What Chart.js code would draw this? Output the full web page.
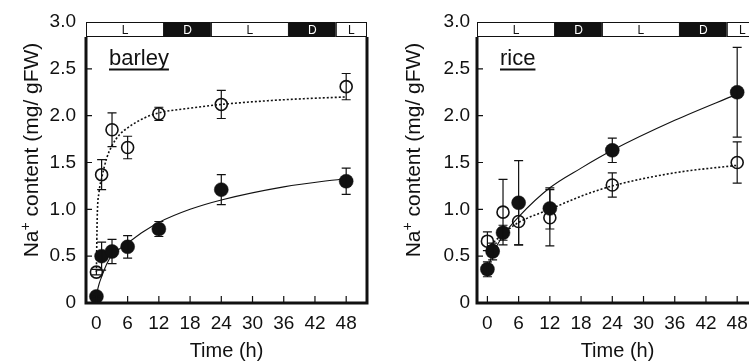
<!DOCTYPE html>
<html>
<head>
<meta charset="utf-8">
<title>Na+ content in barley and rice</title>
<style>
  html, body { margin: 0; padding: 0; background: #fff; overflow: hidden; width: 749px; height: 363px; }
  .panel { position: absolute; top: 0; }
</style>
</head>
<body>
<div class="panel" style="left:0px"><canvas id="barleyChart" width="390" height="363"></canvas></div>
<div class="panel" style="left:391px"><canvas id="riceChart" width="390" height="363"></canvas></div>
<script src="https://cdn.jsdelivr.net/npm/chart.js@4.4.1/dist/chart.umd.min.js"></script>
<script>
// sampling times (h)
const hours = [0, 1, 3, 6, 12, 24, 48];
const xTicks = [0, 6, 12, 18, 24, 30, 36, 42, 48];

// light / dark periods (h)
const ldStart = [-2, 13, 22, 37, 46];
const ldEnd = [13, 22, 37, 46, 52];
const ldLabel = ['L', 'D', 'L', 'D', 'L'];

// barley
const barleyOpen = [0.33, 1.37, 1.85, 1.66, 2.02, 2.12, 2.31];
const barleyOpenErr = [0.03, 0.16, 0.18, 0.12, 0.07, 0.15, 0.14];
const barleyFilled = [0.07, 0.50, 0.55, 0.60, 0.79, 1.21, 1.30];
const barleyFilledErr = [0.02, 0.15, 0.13, 0.12, 0.08, 0.16, 0.14];
const barleyFitT = [0, 0.15, 0.5, 1, 2, 3, 4.5, 6, 9, 12, 18, 24, 36, 48];
const barleyOpenFit = [0.33, 0.9, 1.18, 1.33, 1.55, 1.68, 1.8, 1.87, 1.97, 2.03, 2.08, 2.12, 2.17, 2.2];
const barleyFilledFit = [0.07, 0.12, 0.2, 0.28, 0.42, 0.51, 0.58, 0.64, 0.76, 0.86, 1.0, 1.1, 1.24, 1.33];

// rice
const riceOpen = [0.66, 0.56, 0.97, 0.87, 0.91, 1.26, 1.50];
const riceOpenErr = [0.10, 0.05, 0.35, 0.25, 0.30, 0.13, 0.22];
const riceFilled = [0.36, 0.55, 0.75, 1.07, 1.01, 1.63, 2.25];
const riceFilledErr = [0.08, 0.09, 0.08, 0.45, 0.22, 0.13, 0.48];
const riceFitT = [0, 1, 3, 6, 12, 18, 24, 36, 48];
const riceOpenFit = [0.6, 0.64, 0.74, 0.86, 1.0, 1.14, 1.25, 1.39, 1.47];
const riceFilledFit = [0.36, 0.52, 0.72, 0.92, 1.23, 1.44, 1.63, 1.95, 2.23];

const FONT = '"Liberation Sans", Arial, Helvetica, sans-serif';
const INK = '#111';

function pts(xs, ys) {
  return xs.map((x, i) => ({ x: x, y: ys[i] }));
}

function panelPlugin(cfg) {
  return {
    id: 'panel_' + cfg.name,
    afterDatasetsDraw(chart) {
      const ctx = chart.ctx;
      const xs = chart.scales.x, ys = chart.scales.y;
      const a = chart.chartArea;
      ctx.save();
      ctx.strokeStyle = INK;
      ctx.fillStyle = INK;

      // error bars
      ctx.lineWidth = 1.2;
      [[cfg.open, cfg.openErr], [cfg.filled, cfg.filledErr]].forEach(function (s) {
        hours.forEach(function (t, i) {
          const v = s[0][i], e = s[1][i];
          const px = xs.getPixelForValue(t);
          const y1 = ys.getPixelForValue(v + e), y2 = ys.getPixelForValue(v - e);
          ctx.beginPath();
          ctx.moveTo(px, y1); ctx.lineTo(px, y2);
          ctx.moveTo(px - 4.5, y1); ctx.lineTo(px + 4.5, y1);
          ctx.moveTo(px - 4.5, y2); ctx.lineTo(px + 4.5, y2);
          ctx.stroke();
        });
      });

      // light / dark bar
      const barH = 15;
      ctx.lineWidth = 1;
      ctx.font = '12px ' + FONT;
      ctx.textAlign = 'center';
      ctx.textBaseline = 'middle';
      ldStart.forEach(function (s, i) {
        const x1 = Math.max(a.left, xs.getPixelForValue(s));
        const x2 = Math.min(a.right, xs.getPixelForValue(ldEnd[i]));
        const dark = ldLabel[i] === 'D';
        ctx.fillStyle = dark ? INK : '#fff';
        ctx.fillRect(x1, a.top, x2 - x1, barH);
        ctx.strokeStyle = INK;
        ctx.strokeRect(x1 + 0.5, a.top + 0.5, x2 - x1 - 1, barH - 1);
        ctx.fillStyle = dark ? '#fff' : INK;
        ctx.fillText(ldLabel[i], (x1 + x2) / 2, a.top + barH / 2 + 1);
      });

      // frame
      ctx.strokeStyle = INK;
      ctx.lineWidth = 3;
      ctx.beginPath();
      ctx.moveTo(a.left, a.top + barH);
      ctx.lineTo(a.left, a.bottom);
      ctx.lineTo(a.right, a.bottom);
      ctx.lineTo(a.right, a.top + barH);
      ctx.stroke();

      // inward ticks
      ctx.lineWidth = 1.2;
      ctx.beginPath();
      xTicks.forEach(function (t) {
        const px = xs.getPixelForValue(t);
        ctx.moveTo(px, a.bottom); ctx.lineTo(px, a.bottom - 7);
      });
      ys.ticks.forEach(function (tk) {
        if (tk.value <= 0 || tk.value >= 3) return;
        const py = ys.getPixelForValue(tk.value);
        ctx.moveTo(a.left, py); ctx.lineTo(a.left + 6, py);
      });
      ctx.stroke();

      // species label
      ctx.fillStyle = INK;
      ctx.font = '22px ' + FONT;
      ctx.textAlign = 'left';
      ctx.textBaseline = 'alphabetic';
      const lx = a.left + cfg.labelDx;
      ctx.fillText(cfg.label, lx, 65);
      const w = ctx.measureText(cfg.label).width;
      ctx.fillRect(lx, 68.5, w, 2);

      // x title
      ctx.font = '20px ' + FONT;
      ctx.textAlign = 'center';
      ctx.textBaseline = 'middle';
      ctx.fillText('Time (h)', (a.left + a.right) / 2, 351);

      // y title with superscript
      ctx.translate(cfg.titleX, 150);
      ctx.rotate(-Math.PI / 2);
      ctx.textAlign = 'left';
      ctx.font = '21px ' + FONT;
      const t1 = 'Na', t3 = ' content (mg/ gFW)';
      const w1 = ctx.measureText(t1).width, w3 = ctx.measureText(t3).width;
      ctx.font = '14px ' + FONT;
      const w2 = ctx.measureText('+').width;
      let x0 = -(w1 + w2 + w3) / 2;
      ctx.font = '21px ' + FONT;
      ctx.fillText(t1, x0, 0);
      ctx.font = '14px ' + FONT;
      ctx.fillText('+', x0 + w1, -6);
      ctx.font = '21px ' + FONT;
      ctx.fillText(t3, x0 + w1 + w2, 0);
      ctx.restore();
    }
  };
}

function makeChart(id, cfg) {
  new Chart(document.getElementById(id), {
    type: 'scatter',
    data: {
      datasets: [
        {
          data: pts(hours, cfg.filled),
          pointRadius: 7, pointBackgroundColor: INK, pointBorderColor: INK, pointBorderWidth: 0.5,
          showLine: false
        },
        {
          data: pts(hours, cfg.open),
          pointRadius: 6, pointBackgroundColor: 'rgba(0,0,0,0)', pointBorderColor: INK, pointBorderWidth: 1.6,
          showLine: false
        },
        {
          type: 'line',
          data: pts(cfg.fitT, cfg.filledFit),
          borderColor: INK, borderWidth: 1.1, pointRadius: 0,
          cubicInterpolationMode: 'monotone', fill: false
        },
        {
          type: 'line',
          data: pts(cfg.fitT, cfg.openFit),
          borderColor: INK, borderWidth: 1.6, borderDash: [2, 2], pointRadius: 0,
          cubicInterpolationMode: 'monotone', fill: false
        }
      ]
    },
    options: {
      responsive: false,
      animation: false,
      devicePixelRatio: 1,
      layout: { padding: { top: 22, right: 23, left: 0, bottom: 0 } },
      plugins: { legend: { display: false }, tooltip: { enabled: false } },
      scales: {
        x: {
          type: 'linear', min: -2, max: 52,
          grid: { display: false, drawTicks: false },
          border: { display: false },
          afterBuildTicks: function (s) { s.ticks = xTicks.map(v => ({ value: v })); },
          afterFit: function (s) { s.height = 60; },
          ticks: {
            autoSkip: false, maxRotation: 0, padding: 9, color: INK,
            font: { family: FONT, size: 19 }
          }
        },
        y: {
          min: 0, max: 3,
          grid: { display: false, drawTicks: false },
          border: { display: false },
          afterFit: function (s) { s.width = 86; },
          ticks: {
            stepSize: 0.5, padding: cfg.tickPad, color: INK,
            font: { family: FONT, size: 19 },
            callback: v => v === 0 ? '0' : v.toFixed(1)
          }
        }
      }
    },
    plugins: [panelPlugin(cfg)]
  });
}

makeChart('barleyChart', {
  name: 'barley', label: 'barley', labelDx: 23, titleX: 32, tickPad: 10,
  open: barleyOpen, openErr: barleyOpenErr, filled: barleyFilled, filledErr: barleyFilledErr,
  fitT: barleyFitT, openFit: barleyOpenFit, filledFit: barleyFilledFit
});

makeChart('riceChart', {
  name: 'rice', label: 'rice', labelDx: 23, titleX: 23, tickPad: 7,
  open: riceOpen, openErr: riceOpenErr, filled: riceFilled, filledErr: riceFilledErr,
  fitT: riceFitT, openFit: riceOpenFit, filledFit: riceFilledFit
});
</script>
</body>
</html>
